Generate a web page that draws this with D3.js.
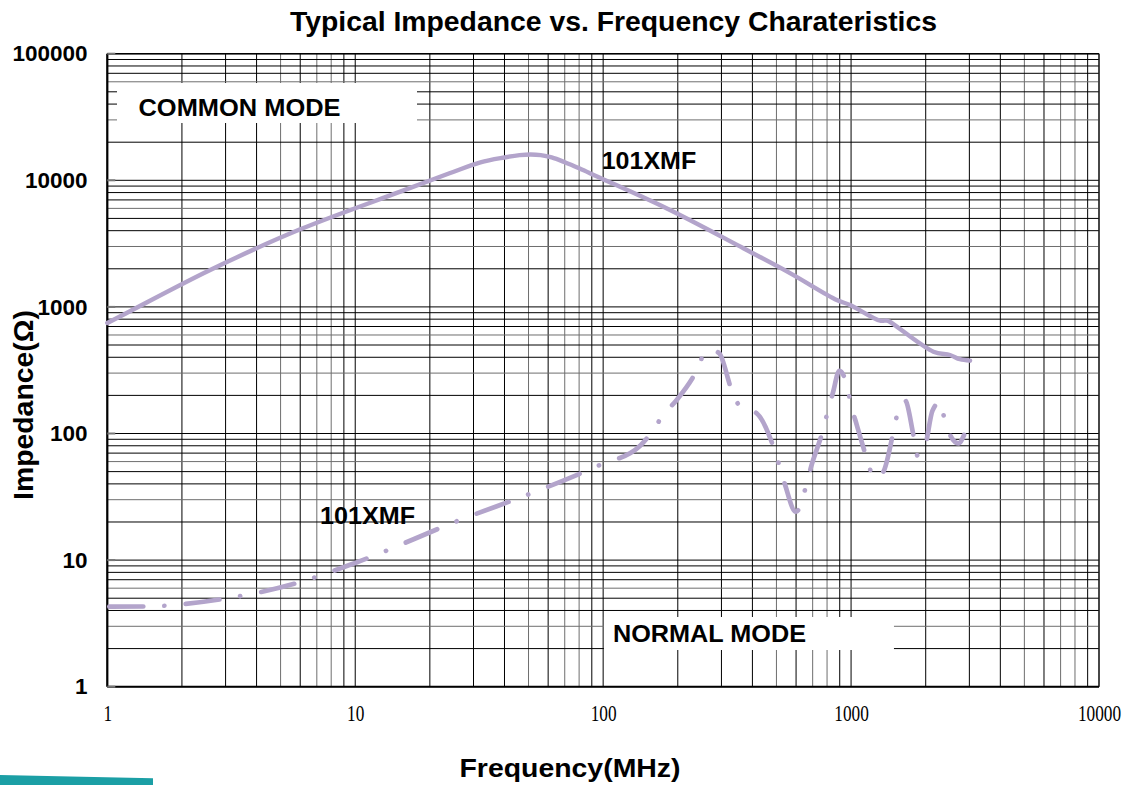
<!DOCTYPE html>
<html>
<head>
<meta charset="utf-8">
<script src="https://cdn.jsdelivr.net/npm/d3@7"></script>
<style>
  html, body { margin: 0; padding: 0; background: #fff; overflow: hidden; }
  svg { display: block; }
</style>
</head>
<body>
<div id="chart"></div>
<script>
(() => {
  // axis ticks
  const freqTicks = [1, 10, 100, 1000, 10000];
  const impTicks = [1, 10, 100, 1000, 10000, 100000];

  // common mode curve (MHz, ohm)
  const commonFreq = [1, 1.235, 2.6, 6, 15.2, 24, 32, 40, 46, 51, 56, 62, 70, 80, 95, 180, 368, 567, 876, 991, 1309, 1395, 1432, 2148, 2506, 2747, 3020];
  const commonZ    = [746, 925, 1957, 4100, 8130, 11360, 13870, 15150, 15800, 16000, 15800, 15150, 13900, 12450, 10670, 6010, 2904, 1850, 1133, 1035, 778, 780, 764, 443, 417, 386, 376];

  // normal mode curve (MHz, ohm)
  const normalFreq = [1, 1.39, 2.87, 5.77, 10, 26.4, 55.5, 97, 141, 160, 174, 198, 239, 259, 275, 294, 328, 357, 417, 486, 514, 542, 598, 627, 658, 690, 769, 805, 844, 897, 961, 1000, 1054, 1163, 1239, 1349, 1468, 1529, 1652, 1784, 1858, 1987, 2128, 2286, 2393, 2710, 2857];
  const normalZ    = [4.29, 4.3, 4.9, 6.56, 9.5, 20.7, 35.8, 56.4, 80, 108, 139, 184, 317, 443, 455, 430, 228, 163, 144, 78.6, 55.7, 39.2, 24.1, 27.2, 38.7, 54.7, 105, 149, 208, 313, 242, 168, 117, 61.8, 44.3, 49.9, 94.4, 137, 182, 97.3, 66.4, 78.7, 151, 178, 124, 83.7, 97.3];

  const width = 1133, height = 785;
  const left = 107.3, right = 1099, top = 53.7, bottom = 686.7;
  const lineColor = "#b3a4cb";

  const svg = d3.select("#chart").append("svg")
    .attr("width", width)
    .attr("height", height);

  const x = d3.scaleLog().domain([1, 10000]).range([left, right]);
  const y = d3.scaleLog().domain([1, 100000]).range([bottom, top]);

  // grid values: every 1..9 multiple per decade
  const gridVals = (lo, hi) => {
    const out = [];
    for (let d = lo; d < hi; d *= 10) {
      for (let m = 1; m <= 9; m++) out.push({ v: d * m, m });
    }
    out.push({ v: hi, m: 1 });
    return out;
  };

  const greyX = [5, 7, 8];
  const greyY = [3, 6];

  const grid = svg.append("g");
  grid.selectAll("line.gx")
    .data(gridVals(1, 10000))
    .join("line")
    .attr("class", "gx")
    .attr("x1", d => x(d.v)).attr("x2", d => x(d.v))
    .attr("y1", top).attr("y2", bottom)
    .attr("stroke", d => greyX.includes(d.m) ? "#6e6e6e" : "#000")
    .attr("stroke-width", 1);

  grid.selectAll("line.gy")
    .data(gridVals(1, 100000))
    .join("line")
    .attr("class", "gy")
    .attr("x1", left).attr("x2", right)
    .attr("y1", d => y(d.v)).attr("y2", d => y(d.v))
    .attr("stroke", d => greyY.includes(d.m) ? "#6e6e6e" : "#000")
    .attr("stroke-width", 1);

  // white label boxes punched into the grid
  svg.append("rect").attr("x", 117).attr("y", 83).attr("width", 300).attr("height", 40).attr("fill", "#fff");
  svg.append("rect").attr("x", x(100) + 0.8).attr("y", 617).attr("width", 290).attr("height", 33).attr("fill", "#fff");

  // frame
  svg.append("line").attr("x1", left).attr("x2", right).attr("y1", top).attr("y2", top)
    .attr("stroke", "#000").attr("stroke-width", 1.6);
  svg.append("line").attr("x1", right).attr("x2", right).attr("y1", top).attr("y2", bottom)
    .attr("stroke", "#222").attr("stroke-width", 1.2);
  svg.append("line").attr("x1", left).attr("x2", right).attr("y1", bottom).attr("y2", bottom)
    .attr("stroke", "#000").attr("stroke-width", 2);
  svg.append("line").attr("x1", left).attr("x2", left).attr("y1", top).attr("y2", bottom)
    .attr("stroke", "#000").attr("stroke-width", 2.2);

  // short inner ticks on the left axis
  svg.append("g").selectAll("line")
    .data(impTicks)
    .join("line")
    .attr("x1", left).attr("x2", left + 8)
    .attr("y1", d => y(d)).attr("y2", d => y(d))
    .attr("stroke", "#777").attr("stroke-width", 2);

  // axes (labels only)
  const xAxis = svg.append("g")
    .attr("transform", `translate(0,${bottom})`)
    .call(d3.axisBottom(x).tickValues(freqTicks).tickFormat(d3.format("d")).tickSize(0));
  xAxis.select(".domain").remove();
  xAxis.selectAll("text")
    .attr("y", 34).attr("dy", 0)
    .attr("transform", "scale(0.72,1)")
    .attr("fill", "#000")
    .style("font-family", "'Liberation Serif', 'Times New Roman', serif")
    .style("font-size", "24px");

  const yAxis = svg.append("g")
    .attr("transform", `translate(${left},0)`)
    .call(d3.axisLeft(y).tickValues(impTicks).tickFormat(d3.format("d")).tickSize(0).tickPadding(19.8));
  yAxis.select(".domain").remove();
  yAxis.selectAll("text")
    .attr("fill", "#000")
    .style("font-family", "'Liberation Sans', Arial, sans-serif")
    .style("font-weight", "bold")
    .style("font-size", "22.5px");

  // curves
  const line = d3.line()
    .x(d => x(d[0]))
    .y(d => y(d[1]));

  const plot = svg.append("g");
  plot.append("path")
    .attr("d", line.curve(d3.curveCatmullRom.alpha(0.5))(d3.zip(commonFreq, commonZ)))
    .attr("fill", "none")
    .attr("stroke", lineColor)
    .attr("stroke-width", 4.4)
    .attr("stroke-linecap", "round")
    .attr("stroke-linejoin", "round");

  plot.append("path")
    .attr("d", line.curve(d3.curveMonotoneX)(d3.zip(normalFreq, normalZ)))
    .attr("fill", "none")
    .attr("stroke", lineColor)
    .attr("stroke-width", 4.7)
    .attr("stroke-linecap", "round")
    .attr("stroke-linejoin", "round")
    .attr("stroke-dasharray", "34 21 0.1 21.4")
    .attr("stroke-dashoffset", -2);

  // texts
  const sans = "'Liberation Sans', Arial, sans-serif";
  const label = (txt, tx, ty, size, len, anchor = "start") =>
    svg.append("text")
      .attr("x", tx).attr("y", ty)
      .attr("text-anchor", anchor)
      .attr("textLength", len)
      .attr("lengthAdjust", "spacingAndGlyphs")
      .style("font-family", sans)
      .style("font-weight", "bold")
      .style("font-size", size + "px")
      .attr("fill", "#000")
      .text(txt);

  label("Typical Impedance vs. Frequency Charateristics", 613.5, 31, 28, 647, "middle");
  label("COMMON MODE", 138.5, 116, 24.5, 202);
  label("NORMAL MODE", 613, 642, 24.5, 193);
  label("101XMF", 601.7, 169.3, 24.5, 94.5);
  label("101XMF", 320, 524.3, 24.5, 95);
  label("Frequency(MHz)", 570, 777, 26, 221, "middle");

  svg.append("text")
    .attr("transform", "translate(33,405) rotate(-90)")
    .attr("text-anchor", "middle")
    .attr("textLength", 190)
    .attr("lengthAdjust", "spacingAndGlyphs")
    .style("font-family", sans)
    .style("font-weight", "bold")
    .style("font-size", "27px")
    .attr("fill", "#000")
    .text("Impedance(Ω)");

  // teal strip bottom-left
  svg.append("polygon")
    .attr("points", "0,775 153,778.3 153,785 0,785")
    .attr("fill", "#1b9fa5");
})();
</script>
</body>
</html>
